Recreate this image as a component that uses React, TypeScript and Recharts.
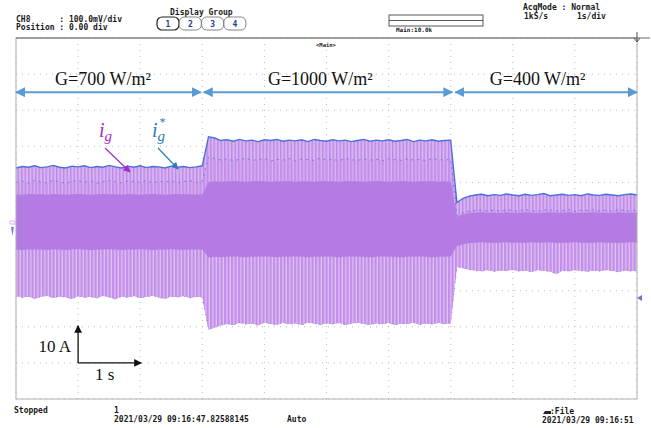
import React from 'react';
import { ComposedChart, Area, Line, XAxis, YAxis, CartesianGrid } from 'recharts';

const W = 651;
const H = 428;
// plot window of the scope screen (pixels)
const PLOT = { left: 16, top: 38, right: 637, bottom: 399 };

// 10 div x 1 s/div, 10 div x 10 A/div
const timeTicks = [0, 1, 2, 3, 4, 5, 6, 7, 8, 9, 10];
const ampTicks = [-50, -40, -30, -20, -10, 0, 10, 20, 30, 40, 50];

// envelopes (A), one sample every 0.1 s
// G=700 : 0.0-3.0 s | G=1000 : 3.1-7.0 s | G=400 : 7.1-10.0 s
const topEnv = [
  14.0, 14.4, 14.2, 14.6, 14.1, 14.3, 14.7, 14.2, 14.0, 14.5,
  14.3, 14.6, 14.1, 14.4, 14.2, 14.7, 14.3, 14.0, 14.5, 14.2,
  14.6, 14.1, 14.4, 14.3, 14.0, 14.5, 14.2, 14.4, 14.1, 14.3, 14.6,
  22.6, 22.3, 21.6, 21.8, 21.4, 21.9, 21.5, 21.7, 21.3, 21.8,
  21.6, 21.9, 21.4, 21.7, 21.5, 21.8, 21.3, 21.9, 21.6, 21.4,
  21.8, 21.5, 21.7, 21.3, 21.6, 21.9, 21.4, 21.7, 21.5, 21.8,
  21.4, 21.6, 21.9, 21.3, 21.7, 21.5, 21.8, 21.4, 21.6, 21.7,
  4.4, 5.6, 6.2, 6.5, 6.7, 6.3, 6.6, 6.4, 6.8, 6.5,
  6.3, 6.7, 6.4, 6.6, 6.9, 6.3, 6.5, 6.7, 6.4, 6.6,
  6.3, 6.8, 6.5, 6.4, 6.7, 6.5, 6.3, 6.6, 6.8, 6.5,
];

const secondEnv = [
  10.0, 10.4, 9.8, 10.5, 10.1, 9.9, 10.6, 10.2, 9.7, 10.3,
  10.5, 10.0, 10.4, 9.8, 10.2, 10.6, 10.1, 9.9, 10.4, 10.2,
  10.0, 10.5, 9.8, 10.3, 10.1, 10.4, 9.9, 10.2, 10.5, 10.0, 10.3,
  17.0, 16.6, 16.2, 16.5, 16.0, 16.4, 16.7, 16.1, 16.3, 16.6,
  15.9, 16.4, 16.2, 16.6, 16.0, 16.5, 16.3, 16.1, 16.7, 16.2,
  16.4, 16.0, 16.6, 16.3, 16.1, 16.5, 16.2, 16.4, 16.0, 16.6,
  16.3, 16.1, 16.5, 16.2, 16.4, 16.0, 16.6, 16.3, 16.2, 16.4,
  0.8, 1.6, 2.0, 2.2, 2.4, 2.1, 2.3, 2.0, 2.4, 2.2,
  2.1, 2.5, 2.2, 2.0, 2.3, 2.4, 2.1, 2.2, 2.5, 2.0,
  2.3, 2.2, 2.4, 2.1, 2.3, 2.0, 2.4, 2.2, 2.1, 2.3,
];

const coreTop = [
  6.7, 6.6, 6.8, 6.7, 6.7, 6.6, 6.8, 6.7, 6.6, 6.7,
  6.8, 6.7, 6.6, 6.7, 6.8, 6.7, 6.7, 6.6, 6.8, 6.7,
  6.6, 6.7, 6.8, 6.7, 6.6, 6.7, 6.8, 6.7, 6.7, 6.6, 6.7,
  10.1, 10.3, 10.2, 10.3, 10.4, 10.3, 10.2, 10.3, 10.4, 10.3,
  10.2, 10.3, 10.3, 10.4, 10.2, 10.3, 10.3, 10.2, 10.4, 10.3,
  10.3, 10.2, 10.4, 10.3, 10.3, 10.2, 10.3, 10.4, 10.3, 10.2,
  10.3, 10.4, 10.3, 10.2, 10.3, 10.3, 10.4, 10.2, 10.3, 10.2,
  0.5, 1.2, 1.5, 1.6, 1.7, 1.6, 1.6, 1.5, 1.7, 1.6,
  1.6, 1.7, 1.6, 1.5, 1.6, 1.7, 1.6, 1.6, 1.7, 1.5,
  1.6, 1.6, 1.7, 1.6, 1.6, 1.5, 1.7, 1.6, 1.6, 1.6,
];

const coreBottom = [
  -8.6, -8.7, -8.5, -8.6, -8.6, -8.7, -8.5, -8.6, -8.7, -8.6,
  -8.5, -8.6, -8.7, -8.6, -8.6, -8.5, -8.6, -8.7, -8.6, -8.6,
  -8.5, -8.6, -8.7, -8.6, -8.6, -8.5, -8.6, -8.7, -8.6, -8.6, -8.6,
  -10.8, -10.6, -10.7, -10.6, -10.5, -10.6, -10.7, -10.6, -10.6, -10.5,
  -10.6, -10.7, -10.6, -10.6, -10.5, -10.6, -10.7, -10.6, -10.6, -10.5,
  -10.6, -10.7, -10.6, -10.5, -10.6, -10.6, -10.7, -10.6, -10.5, -10.6,
  -10.6, -10.7, -10.6, -10.6, -10.5, -10.6, -10.7, -10.6, -10.6, -10.5,
  -7.6, -7.1, -6.8, -6.7, -6.6, -6.7, -6.8, -6.7, -6.6, -6.7,
  -6.7, -6.8, -6.6, -6.7, -6.7, -6.6, -6.8, -6.7, -6.7, -6.6,
  -6.7, -6.8, -6.7, -6.6, -6.7, -6.7, -6.8, -6.7, -6.6, -6.7,
];

const bottomEnv = [
  -21.5, -21.9, -21.6, -22.2, -21.7, -21.4, -22.0, -21.6, -21.8, -22.3,
  -21.5, -21.9, -21.7, -22.1, -21.4, -21.8, -22.4, -21.6, -21.9, -21.5,
  -22.0, -21.7, -21.4, -21.9, -22.2, -21.6, -21.8, -21.5, -22.0, -21.7, -21.8,
  -30.8, -30.2, -29.6, -29.2, -29.5, -28.9, -29.3, -29.0, -29.6, -28.8,
  -29.2, -29.4, -28.9, -29.3, -29.0, -29.5, -28.8, -29.1, -29.4, -29.0,
  -29.3, -28.9, -29.5, -29.1, -28.8, -29.2, -29.4, -29.0, -29.3, -28.9,
  -29.5, -29.1, -29.2, -28.8, -29.4, -29.0, -29.3, -28.9, -29.2, -29.0,
  -13.4, -13.8, -14.2, -14.4, -14.6, -14.3, -14.7, -14.4, -14.5, -14.2,
  -14.6, -14.4, -14.8, -14.3, -14.5, -14.7, -15.4, -14.4, -14.6, -14.3,
  -14.5, -14.7, -14.4, -14.6, -14.3, -14.5, -14.8, -14.4, -14.6, -14.5,
];

const data = topEnv.map((top, i) => ({
  t: Number((i * 0.1).toFixed(1)),
  top,
  second: secondEnv[i],
  bottom: bottomEnv[i],
  outer: [bottomEnv[i], top],
  low: [bottomEnv[i], coreBottom[i]],
  mid: [coreTop[i], secondEnv[i]],
  core: [coreBottom[i], coreTop[i]],
}));

// irradiance steps (s) for the annotation arrows, and where each label sits (s)
const stepTimes = [0, 3.0, 7.05, 10];
const stepLabels = ['G=700 W/m²', 'G=1000 W/m²', 'G=400 W/m²'];
const labelTimes = [1.4, 4.9, 8.4];

const xOf = (t: number) => PLOT.left + (t / 10) * (PLOT.right - PLOT.left);
const yOf = (a: number) => PLOT.top + ((50 - a) / 100) * (PLOT.bottom - PLOT.top);

const MONO = '"DejaVu Sans Mono", monospace';
const SERIF = '"Liberation Serif", "Times New Roman", serif';
const BLUE_ARROW = '#5b9bd5';

function Overlay() {
  const mono = { fontFamily: MONO, fontWeight: 700, fill: '#1a1a1a' } as const;
  return (
    <svg width={W} height={H} style={{ position: 'absolute', left: 0, top: 0, pointerEvents: 'none' }}>
      <defs>
        <marker id="ahBlue" viewBox="0 0 10 10" refX="9" refY="5" markerWidth="5" markerHeight="5" orient="auto-start-reverse">
          <path d="M0,0 L10,5 L0,10 z" fill={BLUE_ARROW} />
        </marker>
        <marker id="ahPurple" viewBox="0 0 10 10" refX="9" refY="5" markerWidth="6" markerHeight="6" orient="auto">
          <path d="M0,0 L10,5 L0,10 z" fill="#a22cc8" />
        </marker>
        <marker id="ahBlue2" viewBox="0 0 10 10" refX="9" refY="5" markerWidth="6" markerHeight="6" orient="auto">
          <path d="M0,0 L10,5 L0,10 z" fill="#2f78c0" />
        </marker>
        <marker id="ahBlack" viewBox="0 0 10 10" refX="9" refY="5" markerWidth="6" markerHeight="6" orient="auto">
          <path d="M0,0 L10,5 L0,10 z" fill="#111" />
        </marker>
      </defs>

      {/* header */}
      <text x={16} y={21.5} fontSize={8} {...mono} xmlSpace="preserve">CH8      : 100.0mV/div</text>
      <text x={16} y={29.5} fontSize={8} {...mono} xmlSpace="preserve">Position : 0.00 div</text>
      <text x={170} y={14.5} fontSize={8} {...mono}>Display Group</text>
      {['1', '2', '3', '4'].map((n, i) => (
        <g key={n}>
          <rect x={157 + i * 22.3} y={17} width={22} height={13} rx={5}
            fill="#fff" stroke={i === 0 ? '#222' : '#777'} strokeWidth={i === 0 ? 1.2 : 0.9} />
          <text x={168 + i * 22.3} y={27} fontSize={8} textAnchor="middle" fontFamily={MONO} fontWeight={700} fill="#1d3f8a">{n}</text>
        </g>
      ))}
      <rect x={389} y={15} width={94} height={11} fill="#fff" stroke="#444" strokeWidth={0.9} />
      <line x1={389} x2={483} y1={20.5} y2={20.5} stroke="#444" strokeWidth={0.9} />
      <text x={396} y={32} fontSize={6} {...mono}>Main:10.0k</text>
      <text x={523} y={10} fontSize={8} {...mono} xmlSpace="preserve">AcqMode : Normal</text>
      <text x={524} y={18.5} fontSize={8} {...mono} xmlSpace="preserve">1kS/s      1s/div</text>

      {/* screen frame */}
      <rect x={PLOT.left} y={PLOT.top} width={PLOT.right - PLOT.left} height={PLOT.bottom - PLOT.top}
        fill="none" stroke="#b0b0b0" strokeWidth={1} />
      <line x1={PLOT.left} x2={650} y1={PLOT.top} y2={PLOT.top} stroke="#6a6a6a" strokeWidth={1.2} />
      <line x1={637} x2={637} y1={32} y2={42} stroke="#555" strokeWidth={1} />
      <path d="M634,38 L637,42 L640,38" fill="none" stroke="#555" strokeWidth={1} />
      <text x={326} y={47} fontSize={5.5} textAnchor="middle" {...mono}>&lt;Main&gt;</text>

      {/* channel markers */}
      <rect x={10} y={221} width={5} height={3} fill="none" stroke="#c9a6ee" strokeWidth={0.8} />
      <path d="M11,227 L14,227 L12.5,236 z" fill="#6b86d6" />
      <path d="M637,298 L642,295 L642,301 z" fill="#7a6fd8" />

      {/* irradiance arrows */}
      {stepLabels.map((lab, i) => {
        const x1 = xOf(stepTimes[i]) + (i === 0 ? 0 : 1.5);
        const x2 = xOf(stepTimes[i + 1]) - (i === 2 ? 0 : 1.5);
        return (
          <g key={lab}>
            <line x1={x1} x2={x2} y1={yOf(35)} y2={yOf(35)} stroke={BLUE_ARROW} strokeWidth={2}
              markerStart="url(#ahBlue)" markerEnd="url(#ahBlue)" />
            <text x={xOf(labelTimes[i])} y={85} fontSize={18} textAnchor="middle" fontFamily={SERIF} fill="#111">{lab}</text>
          </g>
        );
      })}

      {/* current labels */}
      <text x={99} y={137} fontFamily={SERIF} fontStyle="italic" fontSize={20} fill="#a22cc8">
        i<tspan fontSize={15} dy={4}>g</tspan>
      </text>
      <line x1={105} y1={148} x2={130} y2={172} stroke="#a22cc8" strokeWidth={1.2} markerEnd="url(#ahPurple)" />
      <text x={152} y={137} fontFamily={SERIF} fontStyle="italic" fontSize={20} fill="#2f78c0">
        i<tspan fontSize={15} dy={4}>g</tspan><tspan fontSize={12} dx={-6} dy={-15}>*</tspan>
      </text>
      <line x1={158} y1={148} x2={178} y2={169} stroke="#2f78c0" strokeWidth={1.2} markerEnd="url(#ahBlue2)" />

      {/* scale bar */}
      <line x1={xOf(1)} y1={yOf(-40)} x2={xOf(1)} y2={yOf(-30) - 1} stroke="#111" strokeWidth={1.3} markerEnd="url(#ahBlack)" />
      <line x1={xOf(1)} y1={yOf(-40)} x2={xOf(2) + 1} y2={yOf(-40)} stroke="#111" strokeWidth={1.3} markerEnd="url(#ahBlack)" />
      <text x={71} y={352} fontSize={17} textAnchor="end" fontFamily={SERIF} fill="#111">10 A</text>
      <text x={95} y={380} fontSize={17} fontFamily={SERIF} fill="#111">1 s</text>

      {/* footer */}
      <text x={14} y={413} fontSize={8} {...mono}>Stopped</text>
      <text x={114} y={413} fontSize={8} {...mono}>1</text>
      <text x={114} y={422} fontSize={8} {...mono}>2021/03/29 09:16:47.82588145</text>
      <text x={287} y={422} fontSize={8} {...mono}>Auto</text>
      <path d="M543,414 L551,414 L551,411 L545,411 z" fill="#222" />
      <text x={550} y={414} fontSize={8} {...mono}>:File</text>
      <text x={542} y={423} fontSize={8} {...mono}>2021/03/29 09:16:51</text>
    </svg>
  );
}

export default function App() {
  return (
    <div style={{ position: 'absolute', left: 0, top: 0, width: W, height: H, background: '#fff' }}>
      <ComposedChart
        width={W}
        height={H}
        data={data}
        margin={{ top: PLOT.top, left: PLOT.left, right: W - PLOT.right, bottom: H - PLOT.bottom }}
      >
        <defs>
          <pattern id="stripeLight" patternUnits="userSpaceOnUse" width={3.5} height={10}>
            <rect width={3.5} height={10} fill="#d8b4f1" />
            <rect width={1.4} height={10} fill="#bd88e7" />
          </pattern>
          <pattern id="stripeLow" patternUnits="userSpaceOnUse" width={3.5} height={10}>
            <rect width={3.5} height={10} fill="#c28ee9" />
            <rect x={2.3} width={1} height={10} fill="#e8d2f8" />
          </pattern>
          <pattern id="stripeMid" patternUnits="userSpaceOnUse" width={3.5} height={10}>
            <rect width={3.5} height={10} fill="#c48ee9" />
            <rect x={2.3} width={1} height={10} fill="#dcbef4" />
          </pattern>
        </defs>
        <CartesianGrid stroke="#bdbdbd" strokeDasharray="1 5" />
        <XAxis dataKey="t" type="number" domain={[0, 10]} ticks={timeTicks} hide />
        <YAxis type="number" domain={[-50, 50]} ticks={ampTicks} hide />
        <Area dataKey="outer" type="linear" stroke="none" fill="url(#stripeLight)" fillOpacity={1} isAnimationActive={false} />
        <Area dataKey="low" type="linear" stroke="none" fill="url(#stripeLow)" fillOpacity={1} isAnimationActive={false} />
        <Area dataKey="mid" type="linear" stroke="none" fill="url(#stripeMid)" fillOpacity={1} isAnimationActive={false} />
        <Area dataKey="core" type="linear" stroke="none" fill="#b57be4" fillOpacity={1} isAnimationActive={false} />
        <Line dataKey="second" type="linear" stroke="#6d7fe0" strokeWidth={1} strokeDasharray="2 4" dot={false} isAnimationActive={false} />
        <Line dataKey="bottom" type="linear" stroke="#7f86e0" strokeWidth={0.8} strokeDasharray="1 5" dot={false} isAnimationActive={false} />
        <Line dataKey="top" type="linear" stroke="#4a70d8" strokeWidth={1.4} dot={false} isAnimationActive={false} />
      </ComposedChart>
      <Overlay />
    </div>
  );
}
